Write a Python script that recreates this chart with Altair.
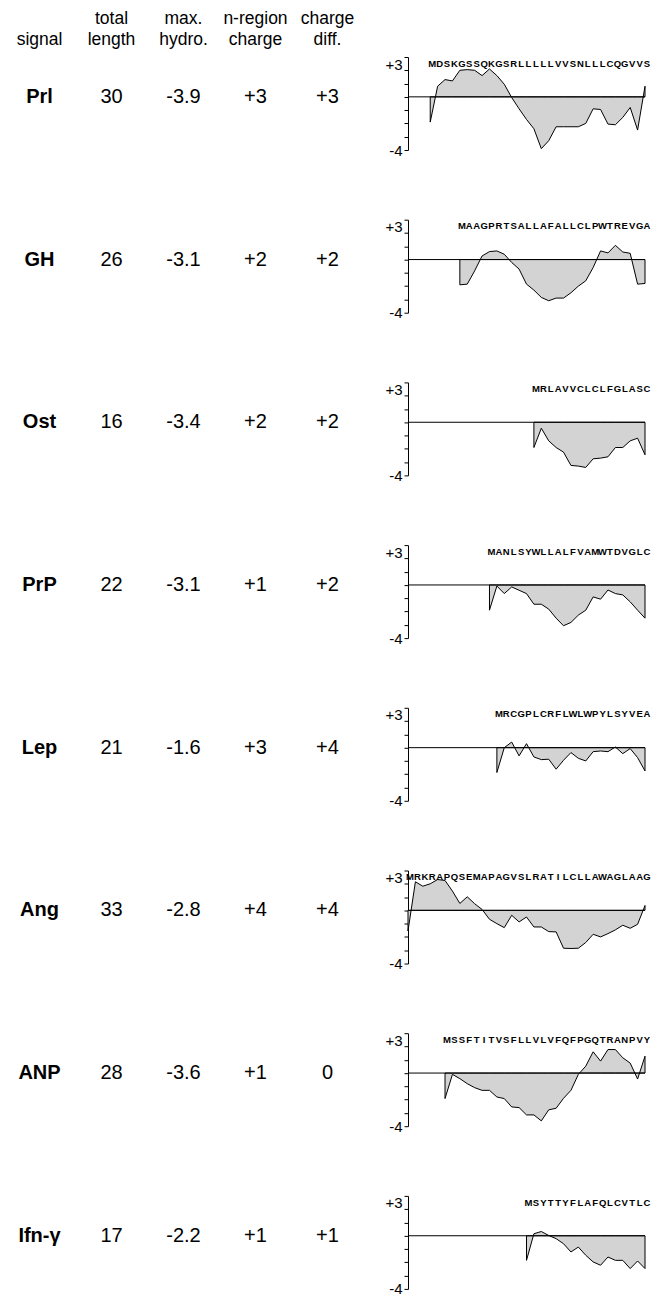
import altair as alt
import pandas as pd

FONT = "Liberation Sans"

# ---- table data ----
signals = ["Prl", "GH", "Ost", "PrP", "Lep", "Ang", "ANP", "Ifn-γ"]
total_length = [30, 26, 16, 22, 21, 33, 28, 17]
max_hydro = [-3.9, -3.1, -3.4, -3.1, -1.6, -2.8, -3.6, -2.2]
n_charge = [3, 2, 2, 1, 3, 4, 1, 1]
charge_diff = [3, 2, 2, 2, 4, 4, 0, 1]

header_top = ["", "total", "max.", "n-region", "charge"]
header_bottom = ["signal", "length", "hydro.", "charge", "diff."]

# ---- sequences ----
sequences = [
    "MDSKGSSQKGSRLLLLLVVSNLLLCQGVVS",
    "MAAGPRTSALLAFALLCLPWTREVGA",
    "MRLAVVCLCLFGLASC",
    "MANLSYWLLALFVAMWTDVGLC",
    "MRCGPLCRFLWLWPYLSYVEA",
    "MRKRAPQSEMAPAGVSLRATILCLLAWAGLAAG",
    "MSSFTITVSFLLVLVFQFPGQTRANPVY",
    "MSYTTYFLAFQLCVTLC",
]

# ---- hydropathy profiles (one value per residue) ----
hydro_prl = [-1.9, 0.8, 1.3, 1.2, 2.0, 2.05, 2.0, 1.6, 2.1, 1.6, 0.95, -0.05, -0.9, -1.7, -2.4,
             -3.9, -3.3, -2.25, -2.25, -2.25, -2.25, -2.0, -0.9, -0.95, -2.05, -2.1, -1.55, -0.8, -2.5, 0.8]
hydro_gh = [-1.9, -1.85, -0.85, 0.27, 0.6, 0.65, 0.4, -0.22, -0.72, -1.85, -2.3, -2.85, -3.1,
            -2.9, -2.9, -2.5, -2.0, -1.6, -0.6, 0.65, 0.5, 1.07, 0.57, 0.47, -1.85, -1.8]
hydro_ost = [-1.9, -0.45, -1.4, -1.9, -2.25, -3.25, -3.3, -3.4, -2.75, -2.7, -2.6, -1.9, -1.9, -1.4, -1.2, -2.45]
hydro_prp = [-1.9, -0.08, -0.65, -0.15, -0.4, -0.65, -1.45, -1.45, -1.82, -2.5, -3.07, -2.82, -2.27,
             -1.9, -0.9, -1.07, -0.38, -0.65, -0.75, -1.27, -1.9, -2.5]
hydro_lep = [-1.87, 0.0, 0.42, -0.62, 0.3, -0.7, -0.9, -0.87, -1.62, -0.95, -0.37, -0.8, -1.0,
             -0.3, -0.25, -0.3, 0.05, -0.45, -0.07, -0.75, -1.75]
hydro_ang = [-1.55, 2.15, 1.82, 2.0, 2.32, 2.25, 1.45, 0.52, 1.02, 0.5, 0.07, -0.67, -1.0, -1.3, -0.37,
             -0.87, -0.5, -1.25, -1.25, -1.6, -1.62, -2.85, -2.87, -2.85, -2.42, -1.8, -2.0, -1.75, -1.47,
             -1.12, -1.35, -1.05, 0.37]
hydro_anp = [-1.92, -0.1, -0.42, -0.8, -1.1, -1.3, -1.3, -1.8, -1.92, -2.55, -2.6, -3.15, -3.15, -3.6,
             -2.77, -2.65, -1.9, -1.3, -0.1, 0.52, 1.6, 0.9, 1.77, 1.77, 1.15, 0.75, -0.45, 1.27]
hydro_ifn = [-1.85, 0.15, 0.32, 0.02, -0.22, -0.6, -1.22, -0.85, -1.47, -1.97, -2.22, -1.6, -1.85,
             -1.85, -2.47, -1.9, -2.47]

hydro = [hydro_prl, hydro_gh, hydro_ost, hydro_prp, hydro_lep, hydro_ang, hydro_anp, hydro_ifn]


def fmt_charge(v):
    return "0" if v == 0 else f"{v:+d}"


cols = ["c1", "c2", "c3", "c4", "c5"]
TABLE_W = 351
PLOT_W = 237
PLOT_H = 93

xcol = alt.X("col:N", scale=alt.Scale(type="point", domain=cols, padding=0.4375), axis=None)
ysc = alt.Scale(domain=[-4, 3], nice=False, zero=False)
xsc = alt.Scale(domain=[-32, 0], nice=False, zero=False)

# header
hdr_rows = []
for c, t, b in zip(cols, header_top, header_bottom):
    hdr_rows.append({"col": c, "line": 0, "text": t})
    hdr_rows.append({"col": c, "line": 1, "text": b})
header = alt.Chart(pd.DataFrame(hdr_rows)).mark_text(
    fontSize=17.5, baseline="middle", color="black", font=FONT
).encode(
    x=xcol,
    y=alt.Y("line:O", scale=alt.Scale(type="point", domain=[0, 1], padding=0.5), axis=None),
    text="text:N",
).properties(width=TABLE_W, height=42)

yaxis = alt.Axis(
    values=[-4, -3, -2, -1, 0, 1, 2, 3],
    labelExpr="datum.value == 3 ? '+3' : (datum.value == -4 ? '-4' : '')",
    labelBaseline={"condition": {"test": "datum.value == 3", "value": "top"}, "value": "middle"},
    tickSize=4, labelFontSize=15, labelPadding=2, labelFont=FONT,
    domainColor="black", tickColor="black", labelColor="black",
    domainWidth=1, tickWidth=1,
    grid=False, title=None,
)

rows = []
for i, name in enumerate(signals):
    tdf = pd.DataFrame({
        "col": cols[1:],
        "text": [str(total_length[i]), f"{max_hydro[i]:.1f}", fmt_charge(n_charge[i]), fmt_charge(charge_diff[i])],
    })
    ndf = pd.DataFrame({"col": [cols[0]], "text": [name]})
    vals = alt.Chart(tdf).mark_text(fontSize=20, baseline="middle", color="black", font=FONT).encode(
        x=xcol, y=alt.YDatum(0, scale=ysc, axis=None), text="text:N")
    names = alt.Chart(ndf).mark_text(fontSize=20, fontWeight="bold", baseline="middle", color="black", font=FONT).encode(
        x=xcol, y=alt.YDatum(0, scale=ysc, axis=None), text="text:N")
    table = alt.layer(names, vals).properties(width=TABLE_W, height=PLOT_H)

    seq = sequences[i]
    n = len(seq)
    pdf = pd.DataFrame({"pos": list(range(-(n - 1), 1)), "h": hydro[i], "letter": list(seq)})
    zdf = pd.DataFrame({"z": [0]})
    area = alt.Chart(pdf).mark_area(fill="#d3d3d3", stroke="black", strokeWidth=1, interpolate="linear").encode(
        x=alt.X("pos:Q", scale=xsc, axis=None),
        y=alt.Y("h:Q", scale=ysc, axis=yaxis),
        y2=alt.Y2Datum(0),
    )
    zero = alt.Chart(zdf).mark_rule(color="black", strokeWidth=1).encode(
        x=alt.XDatum(-32, scale=xsc, axis=None), x2=alt.X2Datum(0),
        y=alt.YDatum(0, scale=ysc, axis=yaxis))
    letters = alt.Chart(pdf).mark_text(fontSize=9.5, fontWeight="bold", baseline="middle", align="center",
                                       dx=2, color="black", font=FONT).encode(
        x=alt.X("pos:Q", scale=xsc, axis=None),
        y=alt.YDatum(2.5, scale=ysc, axis=yaxis),
        text="letter:N",
    )
    plot = alt.layer(area, zero, letters).properties(width=PLOT_W, height=PLOT_H)
    rows.append(alt.hconcat(table, plot, spacing=49, bounds="flush"))

inner = alt.vconcat(*rows, spacing=60.7)
chart = alt.vconcat(header, inner, spacing=6).properties(padding=0)
chart = chart.configure(font=FONT).configure_view(stroke=None)

chart.save("out.html", embed_options={"renderer": "svg", "actions": False})
